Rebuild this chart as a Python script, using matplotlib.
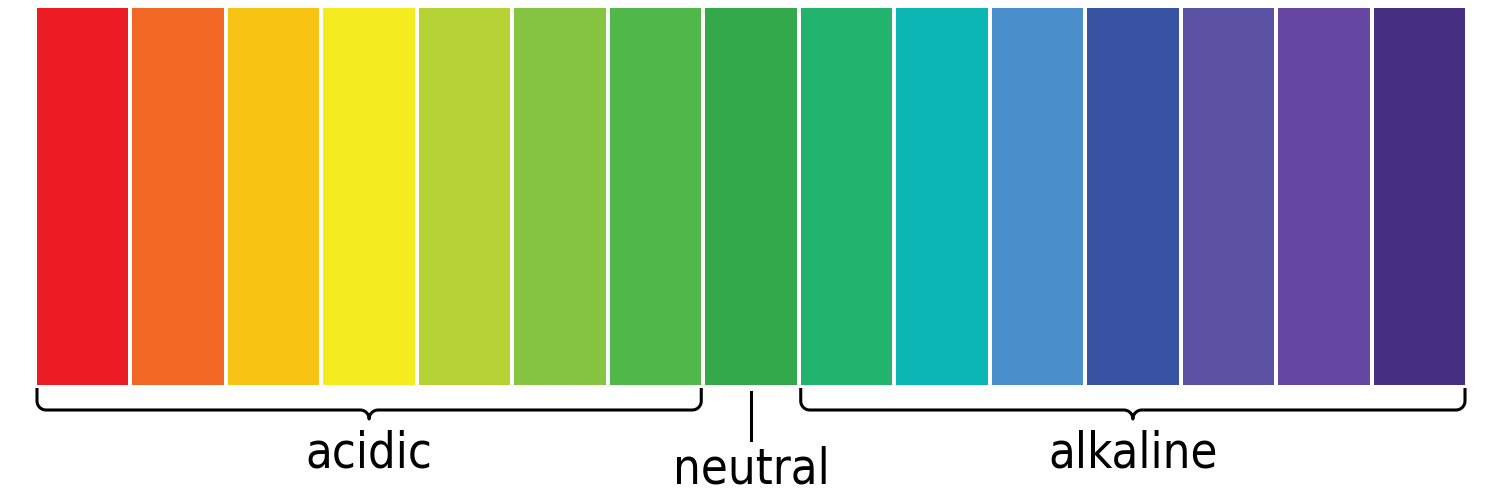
import matplotlib
matplotlib.use("Agg")
import matplotlib.pyplot as plt
import numpy as np

colors = ["#ED1C24", "#F26724", "#F8C312", "#F4EC1F", "#B5D334", "#86C444", "#50B848",
          "#33A94C", "#22B36D", "#0CB6B4", "#4A8FCC", "#3853A4", "#5B51A2", "#6546A0", "#472F84"]
groups = ["acidic", "neutral", "alkaline"]
group_span = [(0, 6), (7, 7), (8, 14)]

plt.rcParams['font.family'] = ['DejaVu Sans']

fig = plt.figure(figsize=(15, 4.99), dpi=100)
ax = fig.add_axes([0, 0, 1, 1])
ax.set_xlim(0, 1500)
ax.set_ylim(499, 0)
ax.axis("off")

x0, w = 37, 1432 / 15
xs = x0 + w * np.arange(len(colors))
ax.bar(xs, 377, width=w - 4, bottom=8, align="edge", color=colors, linewidth=0)


def quarter(cx, cy, r, a0, a1):
    t = np.radians(np.linspace(a0, a1, 12))
    return cx + r * np.cos(t), cy + r * np.sin(t)


def brace(left, right, y=410, r=9, top=388):
    mid = (left + right) / 2
    px, py = [left], [top]
    for seg in [quarter(left + r, y - r, r, 180, 90),
                quarter(mid - r, y + r, r, 270, 360),
                quarter(mid + r, y + r, r, 180, 270),
                quarter(right - r, y - r, r, 90, 0)]:
        px += list(seg[0]); py += list(seg[1])
    px.append(right); py.append(top)
    ax.plot(px, py, color="black", lw=2.2, solid_capstyle="butt")
    return mid


for name, (a, b) in zip(groups, group_span):
    left, right = xs[a], xs[b] + w - 4
    if a == b:
        mid = (left + right) / 2
        ax.plot([mid, mid], [392, 440], color="black", lw=2.2)
        ax.text(mid, 484, name, ha="center", va="baseline", fontsize=35,
                fontstretch="condensed")
    else:
        mid = brace(left, right)
        ax.text(mid, 468, name, ha="center", va="baseline", fontsize=35,
                fontstretch="condensed")

fig.savefig("out.png", dpi=100, facecolor="white")
